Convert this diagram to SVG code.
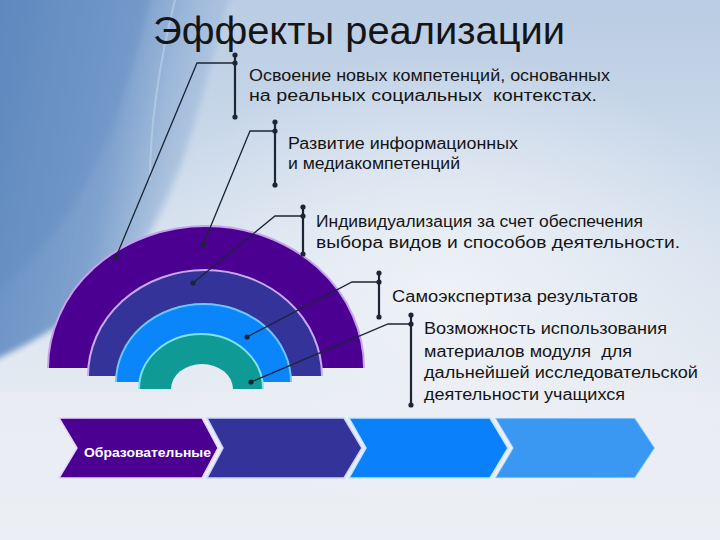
<svg xmlns="http://www.w3.org/2000/svg" width="720" height="540" viewBox="0 0 720 540">
  <defs>
    <linearGradient id="bgV" x1="0" y1="0" x2="0" y2="1">
      <stop offset="0" stop-color="#B9CCE3"/>
      <stop offset="0.45" stop-color="#D6E1EE"/>
      <stop offset="0.75" stop-color="#E6EBF2"/>
      <stop offset="1" stop-color="#ECEFF4"/>
    </linearGradient>
    <linearGradient id="bgL" x1="0" y1="0" x2="1" y2="0.3">
      <stop offset="0" stop-color="#5884BC"/>
      <stop offset="0.6" stop-color="#7FA2CE"/>
      <stop offset="1" stop-color="#A9C1DE" stop-opacity="0.3"/>
    </linearGradient>
    <radialGradient id="glow" cx="0.62" cy="0.55" r="0.45">
      <stop offset="0" stop-color="#F1F4F8" stop-opacity="0.9"/>
      <stop offset="1" stop-color="#F1F4F8" stop-opacity="0"/>
    </radialGradient>
    <filter id="soft" x="-0.2" y="-0.2" width="1.4" height="1.4">
      <feGaussianBlur stdDeviation="3"/>
    </filter>
    <mask id="hole">
      <rect x="0" y="0" width="720" height="540" fill="#fff"/>
      <path d="M171,389 A31 25 0 0 1 233,389 Z" fill="#000"/>
    </mask>
    <style>
      .t { font-family: "Liberation Sans", Arial, sans-serif; fill: #151515; }
      .body { font-size: 16px; }
      .br { stroke: #1B2535; stroke-width: 2.2; fill: none; }
      .cn { stroke: #1B2535; stroke-width: 1.3; fill: none; }
      .dot { fill: #1B2535; }
      .chev { stroke-width: 1.5; }
    </style>
  </defs>

  <!-- background -->
  <rect x="0" y="0" width="720" height="540" fill="url(#bgV)"/>
  <path d="M-30,-30 L243,-30 C205,90 185,200 125,270 C85,315 40,340 -30,372 Z" fill="url(#bgL)" filter="url(#soft)"/>
  <path d="M-30,-30 L158,-30 C120,120 90,230 -30,310 Z" fill="#5A86BE" opacity="0.3" filter="url(#soft)"/>
  <rect x="0" y="0" width="720" height="540" fill="url(#glow)"/>
  <path d="M232,0 C205,90 185,200 122,272 C85,315 40,343 0,362" fill="none" stroke="#FFFFFF" stroke-opacity="0.3" stroke-width="3" filter="url(#soft)"/>
  <path d="M175,0 C160,60 150,120 150,180" fill="none" stroke="#FFFFFF" stroke-opacity="0.25" stroke-width="2"/>
  <rect x="0" y="392" width="720" height="148" fill="#EBEEF3" opacity="0.5"/>

  <!-- title -->
  <text class="t" x="153" y="44" font-size="38" textLength="412" lengthAdjust="spacingAndGlyphs">Эффекты реализации</text>

  <!-- arcs -->
  <g id="arcs" mask="url(#hole)">
    <g id="arc1">
      <path d="M48,368 A158 142 0 0 1 364,368 Z" fill="#4B0092"/>
      <path d="M48,368 A158 142 0 0 1 364,368" fill="none" stroke="#C7A2EC" stroke-width="2"/>
    </g>
    <g id="arc2">
      <path d="M88,376 A117 106 0 0 1 322,376 Z" fill="#343399"/>
      <path d="M88,376 A117 106 0 0 1 322,376" fill="none" stroke="#C9A8F2" stroke-width="2"/>
    </g>
    <g id="arc3">
      <path d="M116,382 A87.5 78 0 0 1 291,382 Z" fill="#0A86FA"/>
      <path d="M116,382 A87.5 78 0 0 1 291,382" fill="none" stroke="#6CC6FF" stroke-width="2"/>
    </g>
    <g id="arc4">
      <path d="M139,389 A62 55 0 0 1 263,389 Z" fill="#0F9A95"/>
      <path d="M139,389 A62 55 0 0 1 263,389" fill="none" stroke="#7FE3EA" stroke-width="2"/>
    </g>
  </g>

  <!-- chevrons -->
  <g id="chevron1">
    <polygon class="chev" points="59,418 202,418 218,448 202,478 59,478 77,448" fill="#4B0092" stroke="#E6D6FF"/>
    <text class="t" x="84" y="457" font-size="12.5" font-weight="bold" style="fill:#FFFFFF" textLength="127" lengthAdjust="spacingAndGlyphs">Образовательные</text>
  </g>
  <g id="chevron2">
    <polygon class="chev" points="207,418 344,418 362,448 344,478 207,478 223,448" fill="#333399" stroke="#C9D6FF"/>
  </g>
  <g id="chevron3">
    <polygon class="chev" points="349,418 490,418 508,448 490,478 349,478 366,448" fill="#0A80FA" stroke="#BFE6FF"/>
  </g>
  <g id="chevron4">
    <polygon class="chev" points="495,418 635,418 655,448 635,478 495,478 513,448" fill="#3A98F2" stroke="#D6ECFF" stroke-opacity="0.6"/>
  </g>

  <!-- labels -->
  <g id="label1">
    <text class="t body" x="249" y="81" textLength="361" lengthAdjust="spacingAndGlyphs">Освоение новых компетенций, основанных</text>
    <text class="t body" x="249" y="101" xml:space="preserve" textLength="348" lengthAdjust="spacingAndGlyphs">на реальных социальных  контекстах.</text>
  </g>
  <g id="label2">
    <text class="t body" x="288" y="149" textLength="230" lengthAdjust="spacingAndGlyphs">Развитие информационных</text>
    <text class="t body" x="288" y="169" textLength="172" lengthAdjust="spacingAndGlyphs">и медиакомпетенций</text>
  </g>
  <g id="label3">
    <text class="t body" x="316" y="227" textLength="327" lengthAdjust="spacingAndGlyphs">Индивидуализация за счет обеспечения</text>
    <text class="t body" x="316" y="248" textLength="364" lengthAdjust="spacingAndGlyphs">выбора видов и способов деятельности.</text>
  </g>
  <g id="label4">
    <text class="t body" x="392" y="302" textLength="246" lengthAdjust="spacingAndGlyphs">Самоэкспертиза результатов</text>
  </g>
  <g id="label5">
    <text class="t body" x="424" y="334" textLength="243" lengthAdjust="spacingAndGlyphs">Возможность использования</text>
    <text class="t body" x="424" y="357" xml:space="preserve" textLength="208" lengthAdjust="spacingAndGlyphs">материалов модуля  для</text>
    <text class="t body" x="424" y="378" textLength="274" lengthAdjust="spacingAndGlyphs">дальнейшей исследовательской</text>
    <text class="t body" x="424" y="400" textLength="201" lengthAdjust="spacingAndGlyphs">деятельности учащихся</text>
  </g>

  <!-- connectors -->
  <g id="connectors">
    <line class="br" x1="235" y1="55" x2="235" y2="117"/>
    <polyline class="cn" points="235,63 197,63 116,257"/>
    <circle class="dot" cx="235" cy="55" r="2.6"/>
    <circle class="dot" cx="235" cy="63" r="2.6"/>
    <circle class="dot" cx="235" cy="117" r="2.6"/>
    <circle class="dot" cx="116" cy="257" r="2.6"/>

    <line class="br" x1="275" y1="122" x2="275" y2="185"/>
    <polyline class="cn" points="275,131 250,131 203,245"/>
    <circle class="dot" cx="275" cy="122" r="2.6"/>
    <circle class="dot" cx="275" cy="131" r="2.6"/>
    <circle class="dot" cx="275" cy="185" r="2.6"/>
    <circle class="dot" cx="203" cy="245" r="2.6"/>

    <line class="br" x1="303" y1="207" x2="303" y2="254"/>
    <polyline class="cn" points="303,216 275,216 193,283"/>
    <circle class="dot" cx="303" cy="207" r="2.6"/>
    <circle class="dot" cx="303" cy="216" r="2.6"/>
    <circle class="dot" cx="303" cy="254" r="2.6"/>
    <circle class="dot" cx="193" cy="283" r="2.6"/>

    <line class="br" x1="379" y1="273" x2="379" y2="317"/>
    <polyline class="cn" points="379,282 352,282 247,337"/>
    <circle class="dot" cx="379" cy="273" r="2.6"/>
    <circle class="dot" cx="379" cy="282" r="2.6"/>
    <circle class="dot" cx="379" cy="317" r="2.6"/>
    <circle class="dot" cx="247" cy="337" r="2.6"/>

    <line class="br" x1="411" y1="315" x2="411" y2="405"/>
    <polyline class="cn" points="411,324 388,324 251,382"/>
    <circle class="dot" cx="411" cy="315" r="2.6"/>
    <circle class="dot" cx="411" cy="324" r="2.6"/>
    <circle class="dot" cx="411" cy="405" r="2.6"/>
    <circle class="dot" cx="251" cy="382" r="2.6"/>
  </g>
</svg>
